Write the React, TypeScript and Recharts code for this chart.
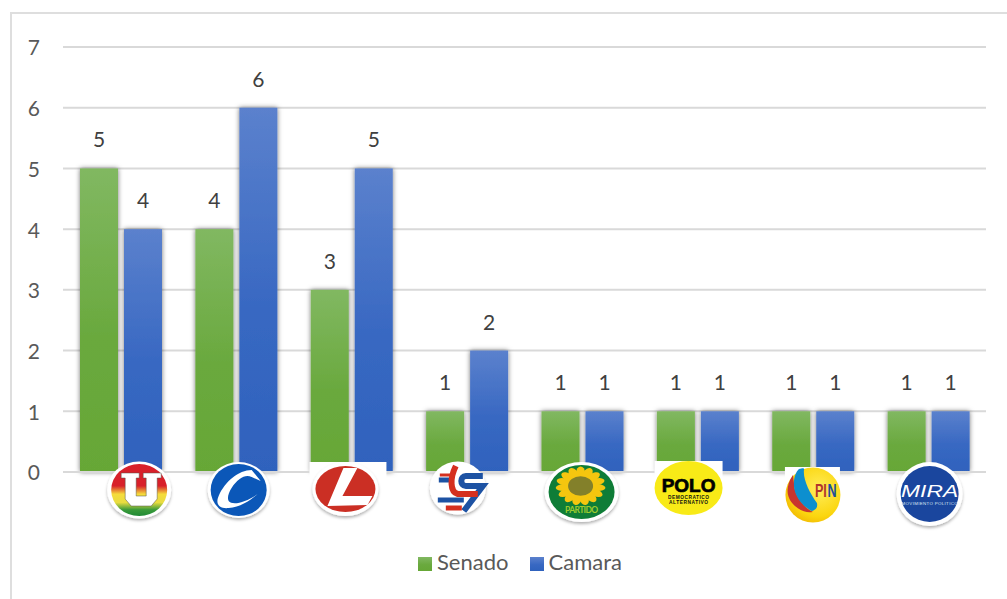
import { Bar, BarChart, CartesianGrid, LabelList, Legend, XAxis, YAxis } from "recharts";

const parties = ["U", "Cambio", "Liberal", "CS", "Verde", "Polo", "PIN", "Mira"];
const senado = [5, 4, 3, 1, 1, 1, 1, 1];
const camara = [4, 6, 5, 2, 1, 1, 1, 1];
const yTicks = [0, 1, 2, 3, 4, 5, 6, 7];
const petalAngles = [0, 24, 48, 72, 96, 120, 144, 168, 192, 216, 240, 264, 288, 312, 336];

const chartData = parties.map((party, i) => ({ party, Senado: senado[i], Camara: camara[i] }));

const FONT = "Lato, sans-serif";

// Party badges under the axis, drawn by hand around their own centre
function ULogo() {
  return (
    <g transform="translate(18.5,18)">
      <ellipse rx={32} ry={28.5} fill="#fff" filter="url(#logoShadow)" />
      <ellipse rx={28} ry={26} fill="url(#uBands)" />
      <path
        transform="translate(2,0)"
        d="M-20 -17H-2V-12H-5V6H5V-12H2V-17H20V-12H16V9L10 16H-10L-16 9V-12H-20Z"
        fill="#fff"
        stroke="#55554a"
        strokeWidth={0.5}
      />
    </g>
  );
}

function CLogo() {
  return (
    <g transform="translate(2.6,18)">
      <ellipse rx={31} ry={28} fill="#fff" filter="url(#logoShadow)" />
      <ellipse rx={28} ry={26} fill="#0b57b8" />
      <path
        d="M22 -9L13 -20C0 -20 -14 -8 -20 6C-24 15 -18 19 -10 18C2 17 12 10 19 4C8 12 -6 16 -10 11C-13 6 -6 -6 1 -11C5 -14 9 -15 13 -13Z"
        fill="#fff"
      />
    </g>
  );
}

function LLogo() {
  return (
    <g transform="translate(-6,17)">
      <rect x={-36} y={-27} width={77} height={20} fill="#fff" />
      <ellipse rx={33} ry={27} fill="#fff" filter="url(#logoShadow)" />
      <ellipse rx={30} ry={23} fill="#cb2f24" />
      <path d="M-2 -21L12 -21L-3 7L27 7L22 16L-18 17Z" fill="#fff" />
    </g>
  );
}

function CSLogo() {
  return (
    <g transform="translate(-9,16)">
      <ellipse rx={28} ry={26.5} fill="#fff" filter="url(#logoShadow)" />
      <path d="M-18 -13H-3" stroke="#d5301f" strokeWidth={3} fill="none" />
      <path d="M-19 -8H-4M-20 12H6" stroke="#1d52a3" strokeWidth={5} fill="none" />
      <path d="M25 -12H8C2 -12 2 -2 8 -2H25L6 23" stroke="#1d52a3" strokeWidth={6} fill="none" />
      <path d="M-2 -22C-8 -10 -8 4 0 6H20" stroke="#d5301f" strokeWidth={6} fill="none" />
      <path d="M-12 20H4" stroke="#d5301f" strokeWidth={5} fill="none" />
    </g>
  );
}

function VerdeLogo() {
  return (
    <g transform="translate(-0.6,20)">
      <ellipse rx={37} ry={30} fill="#fff" filter="url(#logoShadow)" />
      <ellipse rx={33} ry={27} fill="#0f7d37" />
      <g transform="translate(-1,-6) scale(1,0.78)">
        {petalAngles.map((angle) => (
          <ellipse key={angle} cy={-17} rx={4.5} ry={8} fill="#f5c60f" transform={`rotate(${angle})`} />
        ))}
        <circle r={12.5} fill="#83802a" />
      </g>
      <text y={21} textAnchor="middle" fontFamily={FONT} fontSize={8.5} fontWeight={700} fill="#9ecb2d" textLength={33}>
        PARTIDO
      </text>
    </g>
  );
}

function PoloLogo() {
  return (
    <g transform="translate(-9,16)">
      <rect x={-34} y={-27} width={68} height={22} fill="#fff" />
      <ellipse rx={34} ry={27} fill="#f8ea17" />
      <text y={4} textAnchor="middle" fontFamily='"Liberation Sans"' fontSize={19} fontWeight={700} stroke="#000" strokeWidth={0.7} fill="#000">
        POLO
      </text>
      <text y={11} textAnchor="middle" fontFamily='"Liberation Sans"' fontSize={4.8} fontWeight={700} fill="#111" textLength={41}>
        DEMOCRATICO
      </text>
      <text y={16} textAnchor="middle" fontFamily='"Liberation Sans"' fontSize={4.8} fontWeight={700} fill="#111" textLength={39}>
        ALTERNATIVO
      </text>
    </g>
  );
}

function PinLogo() {
  return (
    <g transform="translate(0,23)">
      <rect x={-28} y={-28} width={55} height={22} fill="#fff" />
      <circle r={27.5} fill="url(#pinYellow)" />
      <path d="M-20 -20C-28 -8 -27 3 -18 11C-11 17 -5 18 0 17C-9 13 -19 0 -19 -12Z" fill="#c8352f" />
      <path d="M-14 -26C-8 -28 -9 -26 -9 -25C-10 -15 -3 -2 4 8C5 12 3 15 -1 16C-10 12 -20 0 -19 -12C-19 -18 -17 -23 -14 -26Z" fill="#0d8fcf" />
      <text transform="translate(2,2) scale(0.7,1)" fontFamily='"Liberation Sans"' fontSize={18} fontWeight={700} fill="#b2342c">
        PI
      </text>
      <text transform="translate(14.5,2) scale(0.7,1)" fontFamily='"Liberation Sans"' fontSize={18} fontWeight={700} fill="#1e4f9c">
        N
      </text>
    </g>
  );
}

function MiraLogo() {
  return (
    <g transform="translate(1.3,22)">
      <ellipse rx={33} ry={32} fill="#fff" filter="url(#logoShadow)" />
      <ellipse rx={29} ry={28} fill="#1a469e" />
      <text y={3} textAnchor="middle" fontFamily='"Liberation Sans"' fontStyle="italic" fontSize={17} fill="#fff" textLength={57} lengthAdjust="spacingAndGlyphs">
        MIRA
      </text>
      <text y={10.5} textAnchor="middle" fontFamily='"Liberation Sans"' fontSize={4.4} fill="#dfe6f5" textLength={56}>
        MOVIMIENTO POLÍTICO
      </text>
    </g>
  );
}

const logos: Record<string, () => React.ReactNode> = {
  U: ULogo,
  Cambio: CLogo,
  Liberal: LLogo,
  CS: CSLogo,
  Verde: VerdeLogo,
  Polo: PoloLogo,
  PIN: PinLogo,
  Mira: MiraLogo,
};

function LogoTick({ x, y, payload }: any) {
  const Logo = logos[payload.value];
  return (
    <g transform={`translate(${x},${y})`}>
      <Logo />
    </g>
  );
}

function ShadowBar({ x, y, width, height, fill }: any) {
  return <rect x={x} y={y} width={width} height={height} fill={fill} filter="url(#barShadow)" />;
}

function legendText(value: string) {
  return <span style={{ color: "#595959", marginLeft: 1, paddingRight: 11 }}>{value}</span>;
}

const valueLabel = { fontFamily: FONT, fontSize: 21, fill: "#404040" };

export default function App() {
  return (
    <div style={{ position: "absolute", left: 0, top: 0, width: 1007, height: 599, overflow: "hidden", background: "#fff" }}>
      {/* chart frame: only the top and left edges are inside the crop */}
      <div
        style={{
          position: "absolute",
          left: 10,
          top: 12,
          width: 997,
          height: 587,
          borderTop: "2px solid #dedede",
          borderLeft: "2px solid #dedede",
        }}
      />
      <BarChart
        width={1007}
        height={599}
        data={chartData}
        barSize={38}
        barGap={6}
        margin={{ top: 47, right: 21, bottom: 0, left: 3 }}
        style={{ position: "absolute", left: 0, top: 0 }}
      >
        <defs>
          <linearGradient id="greenFill" x1="0" y1="0" x2="0" y2="1">
            <stop offset="0%" stopColor="#81b861" />
            <stop offset="55%" stopColor="#6aa93e" />
            <stop offset="100%" stopColor="#66a736" />
          </linearGradient>
          <linearGradient id="blueFill" x1="0" y1="0" x2="0" y2="1">
            <stop offset="0%" stopColor="#5b81cd" />
            <stop offset="55%" stopColor="#3868c2" />
            <stop offset="100%" stopColor="#2f62bd" />
          </linearGradient>
          <linearGradient id="uBands" x1="0" y1="0" x2="0" y2="1">
            <stop offset="0%" stopColor="#d8202a" />
            <stop offset="42%" stopColor="#d8202a" />
            <stop offset="58%" stopColor="#f5dc3c" />
            <stop offset="74%" stopColor="#e9dc40" />
            <stop offset="88%" stopColor="#3a9a3a" />
            <stop offset="100%" stopColor="#1f8a35" />
          </linearGradient>
          <radialGradient id="pinYellow" cx="0.6" cy="0.4" r="0.7">
            <stop offset="0%" stopColor="#ffed5a" />
            <stop offset="70%" stopColor="#fbd60f" />
            <stop offset="100%" stopColor="#f0b400" />
          </radialGradient>
          <filter id="barShadow" x="-30%" y="-10%" width="160%" height="120%">
            <feDropShadow dx="0" dy="0" stdDeviation="2.5" floodColor="#000" floodOpacity="0.55" />
          </filter>
          <filter id="logoShadow" x="-20%" y="-20%" width="140%" height="150%">
            <feDropShadow dx="0" dy="2" stdDeviation="1.5" floodColor="#000" floodOpacity="0.3" />
          </filter>
        </defs>
        <CartesianGrid vertical={false} stroke="#d9d9d9" strokeWidth={2} />
        <XAxis
          dataKey="party"
          height={90}
          axisLine={{ stroke: "#d9d9d9", strokeWidth: 2 }}
          tickLine={false}
          tickSize={0}
          tickMargin={0}
          interval={0}
          tick={LogoTick}
        />
        <YAxis
          width={60}
          domain={[0, 7]}
          ticks={yTicks}
          axisLine={false}
          tickLine={false}
          tickMargin={17}
          tick={{ fontFamily: FONT, fontSize: 21, fill: "#595959", dy: 1 }}
        />
        <Bar dataKey="Senado" fill="url(#greenFill)" shape={ShadowBar} isAnimationActive={false}>
          <LabelList dataKey="Senado" position="top" offset={21} style={valueLabel} />
        </Bar>
        <Bar dataKey="Camara" fill="url(#blueFill)" shape={ShadowBar} isAnimationActive={false}>
          <LabelList dataKey="Camara" position="top" offset={21} style={valueLabel} />
        </Bar>
        <Legend
          align="left"
          iconType="square"
          iconSize={14}
          height={37}
          itemSorter={null}
          formatter={legendText}
          wrapperStyle={{ fontFamily: FONT, fontSize: 22, bottom: 14, left: 418, width: 400, padding: 0 }}
        />
      </BarChart>
    </div>
  );
}
